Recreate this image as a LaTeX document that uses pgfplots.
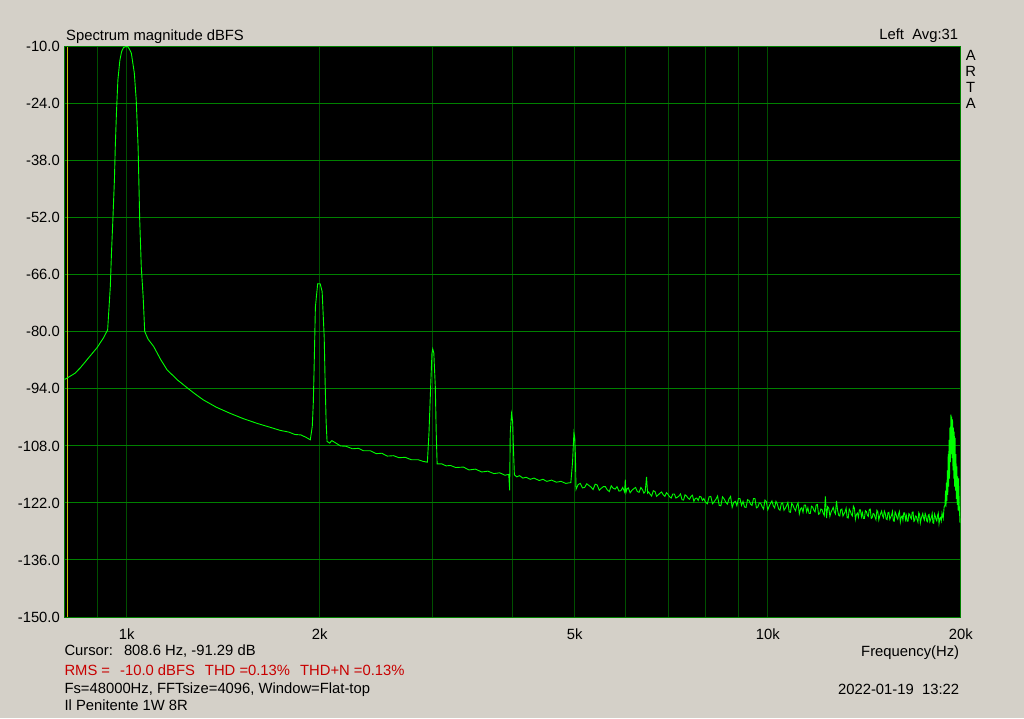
\documentclass[border=0pt]{standalone}
\usepackage{pgfplots}
\pgfplotsset{compat=1.18}
\usepackage{fontspec}
\setmainfont{Liberation Sans}
\definecolor{artabg}{RGB}{212,208,200}
\definecolor{hgrid}{RGB}{0,128,0}
\definecolor{vgrid}{RGB}{0,80,0}
\definecolor{trace}{RGB}{0,255,0}
\definecolor{cursorc}{RGB}{200,200,0}
\definecolor{rmsred}{RGB}{200,0,0}

\begin{document}
\begin{tikzpicture}[font=\fontsize{14.8}{17}\selectfont]
\fill[artabg] (0,0) rectangle (1024pt,718pt);
\begin{axis}[
    at={(64.5pt,101pt)}, anchor=south west,
    scale only axis, width=896.2pt, height=570.3pt,
    xmode=log, xmin=800, xmax=20000, ymin=-150, ymax=-10,
    axis background/.style={fill=black},
    axis line style={hgrid, line width=1pt},
    xtick={1000,2000,5000,10000,20000},
    xticklabels={1k,2k,5k,10k,20k},
    minor xtick={900,3000,4000,6000,7000,8000,9000},
    ytick={-150,-136,-122,-108,-94,-80,-66,-52,-38,-24,-10},
    yticklabels={-150.0,-136.0,-122.0,-108.0,-94.0,-80.0,-66.0,-52.0,-38.0,-24.0,-10.0},
    xmajorgrids, xminorgrids, ymajorgrids,
    major x grid style={vgrid, line width=1pt},
    minor x grid style={vgrid, line width=1pt},
    major y grid style={hgrid, line width=1pt},
    major tick length=0pt, minor tick length=0pt,
    /pgf/number format/assume math mode=true,
    yticklabel style={anchor=east, inner sep=0pt, xshift=-4.5pt},
    xticklabel style={anchor=north, inner sep=0pt, yshift=-12pt},
]
% cursor
\addplot[cursorc, line width=1pt] coordinates {(808.6,-150) (808.6,-10)};
% spectrum
\addplot[trace, line width=0.9pt, mark=none] table {
800 -91.7
808.6 -91.29
830 -90.2
847 -88.8
872 -86.4
899 -83.9
920 -81.5
934 -79.5
943 -68.9
947 -60.6
952 -52.0
957 -42.7
960 -34.6
964 -26.3
969 -18.2
976 -13.3
982 -11.2
989 -10.2
996 -10.0
1004 -10.0
1010 -10.6
1017 -11.6
1028 -16.5
1035 -23.1
1042 -34.6
1048 -52.5
1054 -64.1
1061 -71.3
1067 -79.9
1080 -81.8
1102 -83.6
1130 -86.8
1156 -89.3
1200 -91.8
1242 -93.7
1280 -95.3
1317 -96.7
1380 -98.5
1450 -100.0
1520 -101.3
1600 -102.5
1680 -103.5
1737 -104.2
1790 -104.6
1830 -105.2
1870 -105.3
1905 -105.9
1934 -106.5
1948 -103.2
1955 -97.5
1960 -90.3
1970 -73.9
1986 -68.2
2004 -68.2
2018 -70.1
2033 -81.3
2040 -92.6
2047 -102.0
2054 -106.9
2073 -107.3
2090 -106.7
2115 -107.2
2155 -108.0
2200 -108.1
2250 -108.7
2300 -108.6
2342 -109.2
2400 -109.2
2450 -109.9
2500 -109.8
2550 -110.5
2608 -110.4
2660 -110.9
2720 -110.8
2780 -111.4
2850 -111.4
2900 -111.8
2945 -112.0
2962 -104.8
2980 -93.4
2994 -85.2
3002 -84.2
3014 -85.2
3030 -93.4
3040 -104.8
3050 -112.4
3100 -112.4
3150 -112.9
3200 -112.8
3260 -113.3
3353 -113.2
3420 -113.9
3500 -113.7
3580 -114.4
3660 -114.2
3740 -114.8
3820 -114.6
3890 -115.2
3945 -115.0
3958 -118.9
3966 -104.8
3985 -100.1
4000 -102.0
4012 -108.9
4025 -115.1
4060 -115.6
4100 -115.3
4150 -115.9
4200 -115.7
4260 -116.2
4320 -115.9
4400 -116.5
4460 -116.2
4523 -116.7
4600 -116.4
4680 -116.9
4760 -116.7
4840 -117.2
4930 -117.0
4960 -112.0
4985 -104.8
5000 -106.0
5012 -110.5
5022 -118.7
5060 -117.5
5100 -117.2
5140 -118.3
5180 -118.2
5220 -117.3
5260 -117.7
5300 -118.1
5340 -118.7
5380 -117.4
5420 -117.6
5460 -118.9
5500 -118.4
5540 -118.0
5580 -118.0
5620 -118.8
5660 -119.2
5700 -117.8
5740 -118.4
5780 -118.6
5820 -118.0
5860 -119.1
5900 -119.0
5940 -118.2
5980 -119.3
5995 -116.3
6010 -119.4
6035 -118.5
6060 -118.3
6100 -119.5
6140 -118.9
6180 -118.5
6220 -118.2
6260 -119.2
6300 -119.4
6340 -118.2
6380 -118.8
6410 -119.6
6440 -119.2
6470 -115.6
6495 -119.6
6520 -119.3
6550 -119.8
6590 -120.3
6630 -119.0
6670 -119.2
6710 -120.4
6750 -120.0
6790 -119.6
6830 -119.3
6870 -120.0
6910 -120.4
6950 -119.5
6990 -119.9
7030 -120.5
7070 -120.8
7110 -119.8
7150 -119.8
7190 -120.8
7230 -120.6
7270 -120.3
7310 -119.8
7350 -121.2
7390 -121.3
7430 -120.0
7470 -120.3
7510 -120.8
7550 -121.1
7590 -120.4
7630 -120.1
7670 -121.6
7710 -120.9
7750 -120.8
7790 -121.4
7830 -120.4
7870 -120.5
7910 -121.4
7950 -120.9
7990 -121.7
8050 -122.2
8100 -120.5
8150 -120.4
8200 -122.2
8250 -121.7
8300 -121.1
8350 -120.3
8400 -122.6
8450 -122.7
8500 -120.5
8550 -121.0
8600 -121.8
8650 -122.3
8700 -121.0
8750 -120.4
8800 -123.1
8850 -121.9
8900 -121.6
8950 -122.7
9000 -120.9
9050 -120.9
9100 -122.6
9150 -121.6
9200 -123.0
9250 -123.1
9300 -121.2
9350 -121.4
9400 -122.3
9450 -122.6
9500 -120.9
9550 -120.9
9600 -123.2
9650 -123.0
9700 -122.0
9750 -122.1
9800 -122.9
9850 -123.5
9900 -121.3
9950 -121.7
10000 -123.7
10050 -122.8
10100 -122.1
10150 -121.5
10200 -122.7
10250 -123.2
10300 -121.6
10350 -122.3
10400 -123.5
10450 -123.8
10500 -122.1
10550 -122.0
10600 -123.8
10650 -123.3
10700 -122.7
10750 -121.9
10800 -124.2
10850 -124.3
10900 -122.1
10950 -122.6
11000 -123.4
11050 -123.9
11100 -122.6
11150 -122.0
11200 -124.7
11250 -123.5
11300 -123.2
11350 -124.3
11400 -122.5
11450 -122.5
11500 -124.2
11550 -123.2
11600 -124.6
11650 -124.6
11700 -122.8
11750 -123.0
11800 -123.8
11850 -124.2
11900 -122.5
11950 -122.4
12000 -124.8
12050 -124.6
12100 -123.5
12150 -123.6
12200 -124.5
12250 -125.1
12300 -120.4
12350 -125.7
12400 -122.9
12450 -123.3
12500 -125.3
12550 -124.3
12600 -123.7
12650 -123.1
12700 -124.2
12750 -124.7
12800 -121.5
12850 -123.8
12900 -125.0
12950 -125.2
13000 -123.6
13050 -123.5
13100 -125.2
13150 -124.7
13200 -124.2
13250 -123.3
13300 -125.6
13350 -125.7
13400 -123.5
13450 -124.0
13500 -124.8
13550 -125.2
13600 -122.8
13650 -123.3
13700 -126.0
13750 -124.8
13800 -124.5
13850 -125.5
13900 -123.7
13950 -123.7
14000 -125.4
14050 -124.4
14100 -125.8
14150 -125.8
14200 -123.9
14250 -124.1
14300 -125.0
14350 -125.3
14400 -123.6
14450 -123.5
14500 -125.8
14550 -125.6
14600 -124.6
14650 -124.7
14700 -125.5
14750 -126.1
14800 -123.8
14850 -124.2
14900 -126.2
14950 -125.2
15000 -124.6
15050 -124.0
15100 -125.1
15150 -125.6
15200 -124.0
15250 -124.6
15300 -125.9
15350 -126.1
15400 -124.4
15450 -124.3
15500 -126.0
15550 -125.5
15600 -125.0
15650 -124.1
15700 -126.4
15750 -126.5
15800 -124.2
15850 -124.7
15900 -125.6
15950 -126.0
16000 -124.7
16050 -124.1
16100 -126.7
16150 -125.5
16200 -125.2
16250 -126.2
16300 -124.4
16350 -124.4
16400 -126.1
16450 -125.1
16500 -126.5
16550 -126.5
16600 -124.6
16650 -124.8
16700 -125.6
16750 -125.9
16800 -124.3
16850 -124.2
16900 -126.5
16950 -126.3
17000 -125.2
17050 -125.3
17100 -126.1
17150 -126.7
17200 -124.4
17250 -124.8
17300 -126.9
17350 -125.9
17400 -125.2
17450 -124.6
17500 -125.7
17550 -126.2
17600 -124.6
17650 -125.2
17700 -126.4
17750 -126.6
17800 -125.0
17850 -124.8
17900 -126.6
17950 -126.1
18000 -125.5
18050 -124.6
18100 -126.9
18150 -127.0
18200 -124.7
18250 -125.2
18300 -126.0
18350 -126.4
18400 -125.1
18450 -124.5
18500 -127.1
18550 -125.9
18600 -125.6
18650 -126.4
18700 -124.5
18780 -125.8
18840 -123.0
18900 -122.5
18940 -119.0
18970 -123.0
19000 -117.0
19030 -121.5
19060 -114.0
19090 -120.0
19120 -110.0
19150 -118.0
19180 -106.5
19210 -116.0
19240 -103.5
19270 -112.0
19300 -100.3
19330 -110.0
19360 -100.8
19390 -111.0
19420 -101.5
19450 -114.0
19480 -103.5
19510 -116.0
19540 -104.5
19570 -118.0
19600 -106.0
19630 -119.0
19660 -110.0
19690 -121.0
19720 -113.0
19750 -122.5
19780 -115.5
19820 -124.0
19850 -116.0
19900 -123.0
19950 -126.9
};
\end{axis}
% header and footer texts
\node[anchor=base west, inner sep=0pt] at (66pt,677.3pt) {Spectrum magnitude dBFS};
\node[anchor=base east, inner sep=0pt] at (958.3pt,678pt) {Left\ \ Avg:31};
\node[anchor=base, inner sep=0pt] at (970.7pt,657pt) {A};
\node[anchor=base, inner sep=0pt] at (970.7pt,641.3pt) {R};
\node[anchor=base, inner sep=0pt] at (970.7pt,625.7pt) {T};
\node[anchor=base, inner sep=0pt] at (970.7pt,609.7pt) {A};
\node[anchor=base west, inner sep=0pt] at (64.3pt,63pt) {Cursor:\hspace{11pt}808.6 Hz, -91.29 dB};
\node[anchor=base west, inner sep=0pt, text=rmsred] at (64.3pt,43pt)
    {RMS =\hspace{10pt}-10.0 dBFS\hspace{10pt}THD =0.13\%\hspace{10pt}THD+N =0.13\%};
\node[anchor=base west, inner sep=0pt] at (64.3pt,24.7pt) {Fs=48000Hz, FFTsize=4096, Window=Flat-top};
\node[anchor=base west, inner sep=0pt] at (64.3pt,8pt) {Il Penitente 1W 8R};
\node[anchor=base east, inner sep=0pt] at (959.3pt,62pt) {Frequency(Hz)};
\node[anchor=base east, inner sep=0pt] at (959.3pt,24pt) {2022-01-19\ \ 13:22};
\end{tikzpicture}
\end{document}
